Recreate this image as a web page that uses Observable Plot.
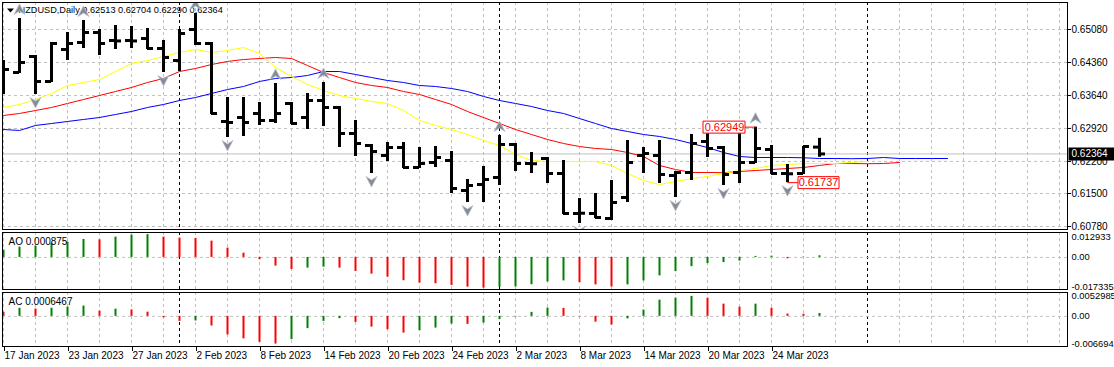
<!DOCTYPE html>
<html><head><meta charset="utf-8">
<script src="https://cdn.jsdelivr.net/npm/d3@7"></script>
<script src="https://cdn.jsdelivr.net/npm/@observablehq/plot@0.6"></script>
<style>
body{margin:0;background:#fff;}
#chart{position:relative;width:1114px;height:367px;overflow:hidden;background:#fff;}
#chart svg{position:absolute;left:0;}
</style></head><body><div id="chart"></div>
<script>
// ---------- data ----------
const symbol = "NZDUSD", timeframe = "Daily";
const dates = ["2023-01-17","2023-01-18","2023-01-19","2023-01-20","2023-01-23","2023-01-24","2023-01-25","2023-01-26","2023-01-27","2023-01-30",
"2023-01-31","2023-02-01","2023-02-02","2023-02-03","2023-02-06","2023-02-07","2023-02-08","2023-02-09","2023-02-10","2023-02-13",
"2023-02-14","2023-02-15","2023-02-16","2023-02-17","2023-02-20","2023-02-21","2023-02-22","2023-02-23","2023-02-24","2023-02-27",
"2023-02-28","2023-03-01","2023-03-02","2023-03-03","2023-03-06","2023-03-07","2023-03-08","2023-03-09","2023-03-10","2023-03-13",
"2023-03-14","2023-03-15","2023-03-16","2023-03-17","2023-03-20","2023-03-21","2023-03-22","2023-03-23","2023-03-24","2023-03-27",
"2023-03-28","2023-03-29"];
const open = [0.63967,0.64142,0.64491,0.63945,0.64644,0.64796,0.65015,0.64840,0.64840,0.64884,
0.64665,0.64403,0.65080,0.64774,0.63072,0.63159,0.63247,0.63094,0.63465,0.63159,
0.63530,0.63378,0.62810,0.62548,0.62330,0.62504,0.62068,0.62177,0.62221,0.61566,
0.61697,0.61850,0.62570,0.62155,0.62264,0.61937,0.61064,0.61064,0.60955,0.61413,
0.62330,0.62330,0.61893,0.61959,0.62635,0.62504,0.61959,0.62177,0.62461,0.61937,
0.61937,0.62513];
const high = [0.64403,0.65320,0.64513,0.64796,0.65015,0.65276,0.65080,0.65167,0.65146,0.65102,
0.64840,0.65080,0.65429,0.64796,0.63596,0.63596,0.63487,0.63901,0.63487,0.63683,
0.63923,0.63400,0.63094,0.62570,0.62614,0.62614,0.62504,0.62526,0.62417,0.61806,
0.62090,0.62766,0.62592,0.62395,0.62286,0.62221,0.61391,0.61500,0.61784,0.62657,
0.62504,0.62657,0.61981,0.62788,0.62832,0.62526,0.62832,0.62949,0.62548,0.62133,
0.62526,0.62704];
const low = [0.63661,0.64120,0.63661,0.63923,0.64403,0.64665,0.64513,0.64644,0.64665,0.64644,
0.64142,0.64163,0.64731,0.63225,0.62723,0.62745,0.62985,0.63028,0.63007,0.62897,
0.62963,0.62504,0.62308,0.61937,0.62199,0.62046,0.62046,0.62068,0.61500,0.61304,
0.61304,0.61675,0.61981,0.61937,0.61719,0.61042,0.60846,0.60955,0.60911,0.61304,
0.61937,0.61719,0.61413,0.61784,0.62286,0.61675,0.61719,0.62155,0.61915,0.61737,
0.61915,0.62290];
const close = [0.64207,0.64360,0.63945,0.64774,0.64774,0.65015,0.64774,0.64830,0.64830,0.64665,
0.64469,0.64993,0.64774,0.63247,0.63050,0.63050,0.63094,0.63247,0.63028,0.63530,
0.63378,0.62810,0.62592,0.62417,0.62504,0.62068,0.62155,0.62286,0.61610,0.61675,
0.61806,0.62570,0.62155,0.62150,0.61937,0.61064,0.61070,0.60977,0.61304,0.62177,
0.62373,0.61915,0.61959,0.62592,0.62483,0.61915,0.62177,0.62483,0.61937,0.61930,
0.62526,0.62364];
// Alligator lines (jaw/teeth/lips), shifted forward past the last bar
const jaw = [0.62897,0.62876,0.62985,0.63028,0.63072,0.63116,0.63159,0.63225,0.63290,0.63378,
0.63443,0.63530,0.63596,0.63683,0.63770,0.63836,0.63945,0.64011,0.64032,0.64076,
0.64163,0.64163,0.64098,0.64032,0.63967,0.63923,0.63858,0.63836,0.63792,0.63727,
0.63618,0.63530,0.63465,0.63399,0.63312,0.63247,0.63137,0.63028,0.62919,0.62854,
0.62788,0.62745,0.62679,0.62592,0.62504,0.62395,0.62308,0.62286,0.62286,0.62286,
0.62280,0.62264,0.62264,0.62260,0.62264,0.62286,0.62264,0.62264,0.62264,0.62264];
const teeth = [0.63203,0.63247,0.63312,0.63378,0.63465,0.63552,0.63639,0.63727,0.63814,0.63923,
0.64011,0.64163,0.64229,0.64316,0.64382,0.64425,0.64447,0.64469,0.64447,0.64294,
0.64142,0.64032,0.63923,0.63858,0.63814,0.63727,0.63661,0.63552,0.63443,0.63290,
0.63159,0.63028,0.62897,0.62788,0.62679,0.62592,0.62526,0.62483,0.62461,0.62395,
0.62308,0.62112,0.62024,0.61959,0.61959,0.61955,0.61981,0.62002,0.62024,0.62046,
0.62068,0.62112,0.62155,0.62155,0.62150,0.62155,0.62177];
const lips = [0.63378,0.63443,0.63552,0.63683,0.63858,0.63923,0.63989,0.64163,0.64338,0.64403,
0.64491,0.64578,0.64644,0.64578,0.64622,0.64687,0.64556,0.64251,0.64054,0.63880,
0.63749,0.63639,0.63574,0.63509,0.63465,0.63312,0.63094,0.62985,0.62897,0.62788,
0.62657,0.62548,0.62352,0.62221,0.62199,0.62199,0.62195,0.62199,0.62112,0.61937,
0.61784,0.61697,0.61762,0.61828,0.61871,0.61937,0.62002,0.62046,0.62112,0.62133,
0.62155,0.62155,0.62155,0.62177,0.62199];
const fractalUp = [1,5,12,17,20,31,47];
const fractalDown = [2,10,14,23,29,36,42,45,49];
const markedHigh = {i: 47, price: 0.62949};
const markedLow = {i: 49, price: 0.61737};
const ao = [0.00395,0.00557,0.00611,0.00757,0.00827,0.00973,0.00951,0.01097,0.01205,0.01232,
0.01097,0.01043,0.01027,0.00881,0.00503,0.00232,-0.00124,-0.00470,-0.00649,-0.00578,
-0.00524,-0.00580,-0.00757,-0.00903,-0.01065,-0.01259,-0.01389,-0.01422,-0.01513,-0.01605,
-0.01659,-0.01605,-0.01594,-0.01476,-0.01324,-0.01270,-0.01362,-0.01486,-0.01594,-0.01486,
-0.01270,-0.01000,-0.00768,-0.00497,-0.00335,-0.00281,-0.00200,0.00054,0.00070,-0.00070,
0.00011,0.000875];
const aoBefore = 0.0028;   // AO of the bar before the first one (sets first bar colour)
const ac = [0.00089,0.00178,0.00162,0.00180,0.00204,0.00229,0.00115,0.00160,0.00142,0.00093,
-0.00033,-0.00111,-0.00102,-0.00215,-0.00411,-0.00500,-0.00577,-0.00615,-0.00517,-0.00273,
-0.00111,-0.00051,-0.00133,-0.00238,-0.00295,-0.00371,-0.00318,-0.00260,-0.00171,-0.00178,
-0.00149,-0.00073,-0.00011,0.00089,0.00184,0.00178,-0.00009,-0.00129,-0.00193,-0.00056,
0.00138,0.00360,0.00406,0.00444,0.00404,0.00271,0.00204,0.00271,0.00182,0.00051,
0.00047,0.0006467];
const acBefore = 0.0012;
const priceTicks = [0.65080,0.64360,0.63640,0.62920,0.62200,0.61500,0.60780];
const aoTicks = [0.012933, 0, -0.017335];
const acTicks = [0.0052985, 0, -0.006694];

// ---------- layout / styles ----------
const W = 1114;
const FONT = "Tahoma, 'Liberation Sans', Arial, sans-serif";
const GRID = "#c0c0c0";
const xScale = {domain: [0, 66], range: [3, 1059], axis: null};
const style = {fontFamily: FONT, fontSize: "10px", color: "black", background: "transparent", overflow: "visible"};

// calendar of trading days (data dates, then continuing weekdays into the empty right area)
const cal = dates.map(s => new Date(s + "T00:00:00Z"));
while (cal.length < 67) {
  let d = new Date(cal[cal.length - 1].getTime());
  do { d = new Date(d.getTime() + 86400000); } while (d.getUTCDay() === 0 || d.getUTCDay() === 6);
  cal.push(d);
}
const gridIdx = d3.range(0, 67, 2);
const sepIdx = d3.range(1, 67).filter(i => cal[i].getUTCMonth() !== cal[i - 1].getUTCMonth());
const labelIdx = d3.range(0, dates.length, 4);
const fmtDate = d3.utcFormat("%-d %b %Y");

const vGrid = () => Plot.ruleX(gridIdx, {x: d => d, stroke: GRID, strokeDasharray: "3,3"});
const seps = () => Plot.ruleX(sepIdx, {x: d => d, stroke: "black", strokeDasharray: "3,3"});

const sym = f => ({draw: f});
const arrowUp = sym(c => { c.moveTo(0, -5.5); c.lineTo(5.5, 5); c.lineTo(0, 1.5); c.lineTo(-5.5, 5); c.closePath(); });
const arrowDown = sym(c => { c.moveTo(0, 5.5); c.lineTo(5.5, -5); c.lineTo(0, -1.5); c.lineTo(-5.5, -5); c.closePath(); });
const boxLeft = sym(c => { c.rect(-52.5, -6, 42, 12); c.moveTo(-10.5, 0); c.lineTo(0, 0); });
const boxRight = sym(c => { c.rect(10.5, -6, 41, 12); c.moveTo(0, 0); c.lineTo(10.5, 0); });
const priceBox = sym(c => { c.rect(1, -6.5, 46, 13); });
const triDown = sym(c => { c.moveTo(-3.5, -2); c.lineTo(3.5, -2); c.lineTo(0, 2); c.closePath(); });

const bars = dates.map((d, i) => ({i, o: open[i], h: high[i], l: low[i], c: close[i]}));
const line = (arr) => arr.map((v, i) => ({i, v}));
const last = bars[bars.length - 1];
const title = `${symbol},${timeframe} ${[last.o, last.h, last.l, last.c].map(v => v.toFixed(5)).join(" ")}`;

// ---------- main price panel ----------
const main = Plot.plot({
  width: W, height: 231, marginLeft: 2, marginRight: 47, marginTop: 2, marginBottom: 2,
  style,
  x: xScale,
  y: {domain: [priceTicks[priceTicks.length - 1], priceTicks[0]], range: [226, 29]},
  marks: [
    Plot.ruleY(priceTicks, {y: d => d, stroke: GRID, strokeDasharray: "3,3"}),
    vGrid(), seps(),
    Plot.ruleY([last.c], {y: d => d, stroke: GRID}),
    Plot.line(line(jaw), {x: "i", y: "v", stroke: "#0000ff", strokeWidth: 1, clip: true}),
    Plot.line(line(teeth), {x: "i", y: "v", stroke: "#ff0000", strokeWidth: 1, clip: true}),
    Plot.line(line(lips), {x: "i", y: "v", stroke: "#ffff00", strokeWidth: 1, clip: true}),
    Plot.ruleX(bars, {x: "i", y1: "l", y2: "h", stroke: "black", strokeWidth: 3, clip: true}),
    Plot.ruleY(bars, {y: "o", x1: d => d.i - 0.375, x2: "i", stroke: "black", strokeWidth: 3, clip: true}),
    Plot.ruleY(bars, {y: "c", x1: "i", x2: d => d.i + 0.375, stroke: "black", strokeWidth: 3, clip: true}),
    Plot.text([title], {frameAnchor: "top-left", dx: 16, dy: 8, textAnchor: "start", lineAnchor: "middle", fill: "black", fontSize: 9.2}),
    Plot.dot([0], {frameAnchor: "top-left", dx: 8, dy: 8, symbol: triDown, fill: "black", stroke: "none"}),
    Plot.dot(fractalUp.map(i => ({i, v: high[i]})), {x: "i", y: "v", dy: -9, symbol: arrowUp, fill: "#8a8a8a", stroke: "#b4c2dc", strokeWidth: 0.8, clip: true}),
    Plot.dot(fractalDown.map(i => ({i, v: low[i]})), {x: "i", y: "v", dy: 8, symbol: arrowDown, fill: "#8a8a8a", stroke: "#b4c2dc", strokeWidth: 0.8, clip: true}),
    Plot.dot([markedHigh], {x: "i", y: "price", symbol: boxLeft, fill: "white", stroke: "red", strokeWidth: 1}),
    Plot.text([markedHigh], {x: "i", y: "price", text: d => d.price.toFixed(5), dx: -31, fill: "red", textAnchor: "middle", fontSize: 11}),
    Plot.dot([markedLow], {x: "i", y: "price", symbol: boxRight, fill: "white", stroke: "red", strokeWidth: 1}),
    Plot.text([markedLow], {x: "i", y: "price", text: d => d.price.toFixed(5), dx: 31, fill: "red", textAnchor: "middle", fontSize: 11}),
    Plot.axisY(priceTicks, {anchor: "right", tickSize: 3, tickPadding: 1, tickFormat: d3.format(".5f"), label: null}),
    Plot.dot([last.c], {y: d => d, frameAnchor: "right", symbol: priceBox, fill: "black", stroke: "none"}),
    Plot.text([last.c], {y: d => d, frameAnchor: "right", dx: 4, textAnchor: "start", fill: "white", text: d => d.toFixed(5)}),
    Plot.frame({stroke: "black"})
  ]
});
main.style.top = "0px";

// ---------- oscillator panels ----------
function oscPanel({values, before, ticks, name, digits, top, height, mTop, mBottom, yRange, withDates}) {
  const data = values.map((v, i) => ({i, v, dir: v > (i ? values[i - 1] : before) ? "up" : "down"}));
  const fmtTick = d => d === 0 ? "0.00" : String(d);
  const lab = {y: d => d, text: fmtTick, frameAnchor: "right", dx: 4, textAnchor: "start", fill: "black", fontSize: 9.4};
  const marks = [
    vGrid(), seps(),
    Plot.ruleY([0], {y: d => d, stroke: GRID, strokeDasharray: "3,3"}),
    Plot.ruleX(data, {x: "i", y1: 0, y2: "v", stroke: "dir", strokeWidth: 2, clip: true}),
    Plot.text([`${name} ${values[values.length - 1].toFixed(digits)}`], {frameAnchor: "top-left", dx: 6, dy: 9, textAnchor: "start", lineAnchor: "middle", fill: "black"}),
    Plot.text([ticks[0]], {...lab, lineAnchor: "top"}),
    Plot.text([ticks[1]], {...lab, lineAnchor: "middle"}),
    Plot.text([ticks[2]], {...lab, lineAnchor: "bottom"}),
    Plot.frame({stroke: "black"})
  ];
  if (withDates) marks.push(Plot.axisX(labelIdx, {anchor: "bottom", tickSize: 5, tickPadding: 0, textAnchor: "start", dx: 1, tickFormat: i => fmtDate(cal[i]), label: null}));
  const svg = Plot.plot({
    width: W, height, marginLeft: 2, marginRight: 47, marginTop: mTop, marginBottom: mBottom,
    style,
    x: xScale,
    y: {domain: [ticks[2], ticks[0]], range: yRange, axis: null},
    color: {domain: ["up", "down"], range: ["#008000", "#ff0000"]},
    marks
  });
  svg.style.top = top + "px";
  return svg;
}
const aoSvg = oscPanel({values: ao, before: aoBefore, ticks: aoTicks, name: "AO", digits: 6, top: 231, height: 59, mTop: 1, mBottom: 1, yRange: [58, 2]});
const acSvg = oscPanel({values: ac, before: acBefore, ticks: acTicks, name: "AC", digits: 7, top: 290, height: 77, mTop: 2, mBottom: 21, yRange: [56, 2], withDates: true});

const root = document.getElementById("chart");
root.append(main, aoSvg, acSvg);
</script></body></html>
